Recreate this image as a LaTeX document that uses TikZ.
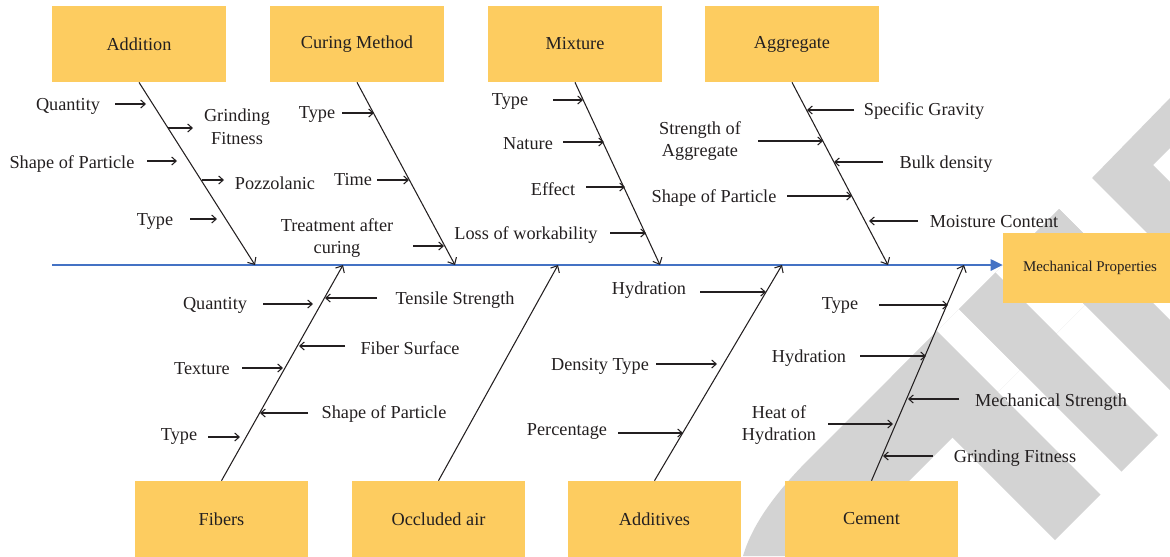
\documentclass[tikz,border=0pt]{standalone}
\usepackage{fontspec}
\setmainfont{Liberation Serif}
\usetikzlibrary{arrows.meta}
\definecolor{boxfill}{RGB}{253,204,96}
\definecolor{spineblue}{RGB}{68,114,196}
\definecolor{ink}{RGB}{35,31,32}
\definecolor{markgray}{RGB}{211,211,211}
\begin{document}
\begin{tikzpicture}[x=0.02cm,y=-0.02cm,
  catbox/.style={fill=boxfill, draw=none, minimum width=3.48cm, minimum height=1.52cm,
    inner sep=0pt, font=\fontsize{10.4}{12.6}\selectfont, text=ink},
  bone/.style={draw=ink, line width=0.6pt, -{Straight Barb[length=1.1mm,width=2mm]}},
  sub/.style={draw=ink, line width=0.6pt, -{Straight Barb[length=0.9mm,width=1.6mm]}},
  spine/.style={draw=spineblue, line width=0.7pt, -{Triangle[length=2.4mm,width=2.3mm]}},
  lbl/.style={font=\fontsize{10.4}{12.6}\selectfont, text=ink, inner sep=0pt, align=center, yshift=-1pt}]
\useasboundingbox (0,0) rectangle (1170,556);

% background mark
\begin{scope}
  \fill[markgray] (1170,98) -- (1092,178) -- (1170,256) -- (1170,182) -- (1153,165) -- (1170,148) -- cycle;
  \fill[markgray] (1059,209) -- (1120,270) -- (834,556) -- (743,556)
    .. controls (752,525) and (775,493) .. (810,458) -- cycle;
  \fill[white] (937,331) -- (959,309) -- (1020,370) -- (998,392) -- cycle;
  \fill[white] (995.5,272.5) -- (1024,244) -- (1085,305) -- (1056.5,333.5) -- cycle;
  \fill[markgray] (1024,244) -- (1059,209) -- (1170,320) -- (1170,390) -- cycle;
  \fill[markgray] (959,309) -- (1121.5,471.5) -- (1158,435) -- (995.5,272.5) -- cycle;
  \fill[markgray] (891.5,376.5) -- (937,331) -- (1100.5,494.5) -- (1055,540) -- cycle;
\end{scope}

% category boxes
\node[catbox] (addition) at (139,44) {Addition};
\node[catbox] (curing)   at (357,44) {Curing Method};
\node[catbox] (mixture)  at (575,44) {Mixture};
\node[catbox] (aggregate) at (792,44) {Aggregate};
\node[catbox] (fibers)   at (221.5,519) {Fibers};
\node[catbox] (occluded) at (438.5,519) {Occluded air};
\node[catbox] (additives) at (654.5,519) {Additives};
\node[catbox] (cement)   at (871.5,519) {Cement};
\node[catbox, minimum height=1.4cm, font=\fontsize{8.5}{10}\selectfont] (mech) at (1090,268) {Mechanical Properties};

% spine
\coordinate (tail) at (52,265);
\draw[spine] (tail) -- (tail -| mech.west);

% bones
\coordinate (jA) at (255,265);
\coordinate (jC) at (455,265);
\coordinate (jM) at (660,265);
\coordinate (jG) at (888,265);
\coordinate (jF) at (343,265);
\coordinate (jO) at (558,265);
\coordinate (jD) at (782,265);
\coordinate (jE) at (964,265);
\draw[bone] (addition.south) -- (jA);
\draw[bone] (curing.south) -- (jC);
\draw[bone] (mixture.south) -- (jM);
\draw[bone] (aggregate.south) -- (jG);
\draw[bone] (fibers.north) -- (jF);
\draw[bone] (occluded.north) -- (jO);
\draw[bone] (additives.north) -- (jD);
\draw[bone] (cement.north) -- (jE);

% sub-cause arrows: name / start x / end x / y
\foreach \n/\xa/\xb/\y in {
  aq/115/146/104, as/147/177/161, at/190/217/219, ag/168/193/128, ap/202/224/180,
  ct/342/374/113, cti/377/409/180, ctr/413/444/246,
  mt/553/583/100, mn/563/604/142, me/586/625/187, ml/610/646/233,
  gs/854/807/110, gst/758/823/141, gb/883/834/162, gsh/787/852/196, gm/918/869/221,
  fq/263/313/304, ft/377/325/298, ff/345/299/346, ftx/242/283/368, fs/308/260/413, fty/208/240/437,
  dh/700/766/292, dd/656/717/364, dp/618/683/433,
  et/879/948/305, eh/860/926/356, em/959/908/399, eho/828/893/424, eg/933/883/456}{
  \coordinate (\n-s) at (\xa,\y);
  \coordinate (\n-e) at (\xb,\y);
  \draw[sub] (\n-s) -- (\n-e);
}

% labels: Addition
\node[lbl] (l-aq) at (68,105) {Quantity};
\node[lbl] (l-as) at (72,162) {Shape of Particle};
\node[lbl] (l-at) at (155,220) {Type};
\node[lbl] (l-ag) at (237,125) {Grinding\\Fitness};
\node[lbl] (l-ap) at (275,181) {Pozzolanic};
% Curing Method
\node[lbl] (l-ct) at (317,113) {Type};
\node[lbl] (l-cti) at (353,178) {Time};
\node[lbl] (l-ctr) at (337,236) {Treatment after\\curing};
% Mixture
\node[lbl] (l-mt) at (510,100) {Type};
\node[lbl] (l-mn) at (528,142) {Nature};
\node[lbl] (l-me) at (553,187) {Effect};
\node[lbl] (l-ml) at (526,233) {Loss of workability};
% Aggregate
\node[lbl] (l-gs) at (924,109) {Specific Gravity};
\node[lbl] (l-gst) at (700,139) {Strength of\\Aggregate};
\node[lbl] (l-gb) at (946,162) {Bulk density};
\node[lbl] (l-gsh) at (714,196) {Shape of Particle};
\node[lbl] (l-gm) at (994,220) {Moisture Content};
% Fibers
\node[lbl] (l-fq) at (215,304) {Quantity};
\node[lbl] (l-ft) at (455,298) {Tensile Strength};
\node[lbl] (l-ff) at (410,346) {Fiber Surface};
\node[lbl] (l-ftx) at (202,367) {Texture};
\node[lbl] (l-fs) at (384,412) {Shape of Particle};
\node[lbl] (l-fty) at (179,435) {Type};
% Additives
\node[lbl] (l-dh) at (649,288) {Hydration};
\node[lbl] (l-dd) at (600,365) {Density Type};
\node[lbl] (l-dp) at (567,430) {Percentage};
% Cement
\node[lbl] (l-et) at (840,304) {Type};
\node[lbl] (l-eh) at (809,356) {Hydration};
\node[lbl] (l-em) at (1051,400) {Mechanical Strength};
\node[lbl] (l-eho) at (779,423) {Heat of\\Hydration};
\node[lbl] (l-eg) at (1015,456) {Grinding Fitness};
\end{tikzpicture}
\end{document}
